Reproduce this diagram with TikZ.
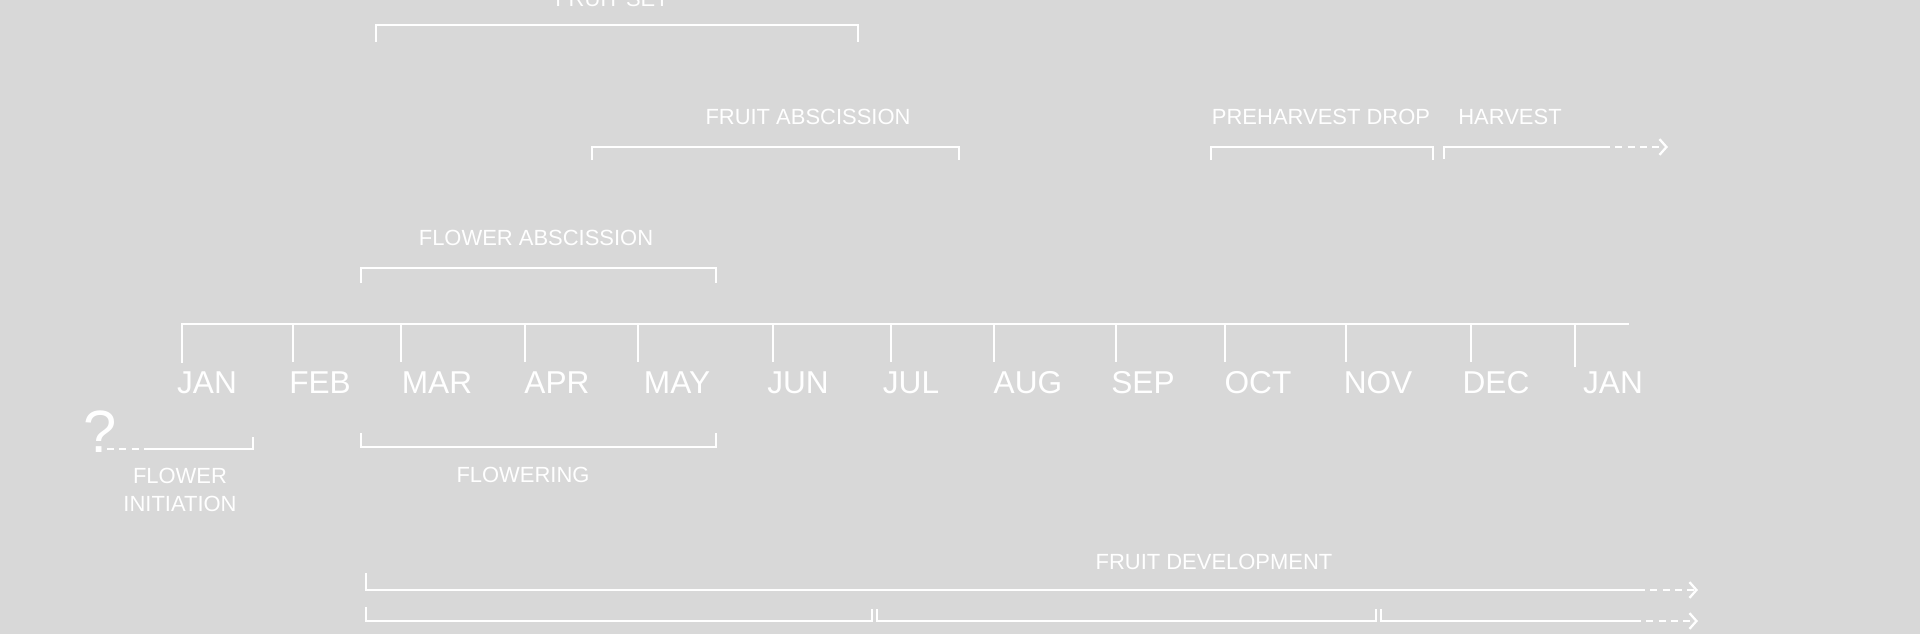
\documentclass[tikz,border=0pt]{standalone}
\usepackage{fontspec}
\setmainfont{Liberation Sans}
\usetikzlibrary{arrows.meta}
\definecolor{bg}{RGB}{216,216,216}
\tikzset{bar/.style = {white, line width=1.3pt}}
\tikzset{month/.style = {white, font=\fontsize{18}{20}\selectfont}}
\tikzset{phase/.style = {white, font=\fontsize{12.5}{16}\selectfont, align=center}}
\tikzset{tip/.style = {-{Straight Barb[length=4pt, width=9pt]}}}
\tikzset{dots/.style = {dash pattern=on 4pt off 3pt}}

\begin{document}
\begin{tikzpicture}[x=0.02cm, y=-0.02cm]
    \fill[bg] (0,0) rectangle (1920,634);
    \useasboundingbox (0,0) rectangle (1920,634);
    % months
    \draw[bar] (182,363) -- (182,324) -- (1629,324);
    \draw[bar] (293,324) -- (293,362) (401,324) -- (401,362)
        (525,324) -- (525,362) (638,324) -- (638,362)
        (773,324) -- (773,362) (891,324) -- (891,362)
        (994,324) -- (994,362) (1116,324) -- (1116,362)
        (1225,324) -- (1225,362) (1346,324) -- (1346,362)
        (1471,324) -- (1471,362) (1575,324) -- (1575,367);
    \node (jan) at (207,383) [month] {JAN};
    \node (feb) at (320,383) [month] {FEB};
    \node (mar) at (437,383) [month] {MAR};
    \node (apr) at (557,383) [month] {APR};
    \node (may) at (677,383) [month] {MAY};
    \node (jun) at (798,383) [month] {JUN};
    \node (jul) at (911,383) [month] {JUL};
    \node (aug) at (1028,383) [month] {AUG};
    \node (sep) at (1143,383) [month] {SEP};
    \node (oct) at (1258,383) [month] {OCT};
    \node (nov) at (1378,383) [month] {NOV};
    \node (dec) at (1496,383) [month] {DEC};
    \node (jan2) at (1613,383) [month] {JAN};
    % above the months
    \node (set) at (612,-1) [phase] {FRUIT SET};
    \draw[bar] (376,42) -- (376,25) -- (858,25) -- (858,42);
    \node (fabs) at (808,117) [phase] {FRUIT ABSCISSION};
    \draw[bar] (592,160) -- (592,147) -- (959,147) -- (959,160);
    \node (drop) at (1321,117) [phase] {PREHARVEST DROP};
    \draw[bar] (1211,160) -- (1211,147) -- (1433,147) -- (1433,160);
    \node (harv) at (1510,117) [phase] {HARVEST};
    \draw[bar] (1444,159) -- (1444,147) -- (1603,147);
    \draw[bar, dots, tip] (1603,147) -- (1668,147);
    \node (flabs) at (536,238) [phase] {FLOWER ABSCISSION};
    \draw[bar] (361,283) -- (361,268) -- (716,268) -- (716,283);
    % below the months
    \node (q) at (100,432) [white, font=\fontsize{34}{34}\selectfont] {?};
    \draw[bar, dots] (107,449) -- (150,449);
    \draw[bar] (150,449) -- (253,449) -- (253,437);
    \node (init) at (180,490) [phase] {FLOWER\\INITIATION};
    \draw[bar] (361,433) -- (361,447) -- (716,447) -- (716,433);
    \node (flow) at (523,475) [phase] {FLOWERING};
    \node (fdev) at (1214,562) [phase] {FRUIT DEVELOPMENT};
    \draw[bar] (366,573) -- (366,590) -- (1638,590);
    \draw[bar, dots, tip] (1638,590) -- (1698,590);
    \draw[bar] (366,607) -- (366,621) -- (872,621) -- (872,609);
    \draw[bar] (877,609) -- (877,621) -- (1376,621) -- (1376,609);
    \draw[bar] (1381,609) -- (1381,621) -- (1634,621);
    \draw[bar, dots, tip] (1634,621) -- (1698,621);
\end{tikzpicture}
\end{document}
